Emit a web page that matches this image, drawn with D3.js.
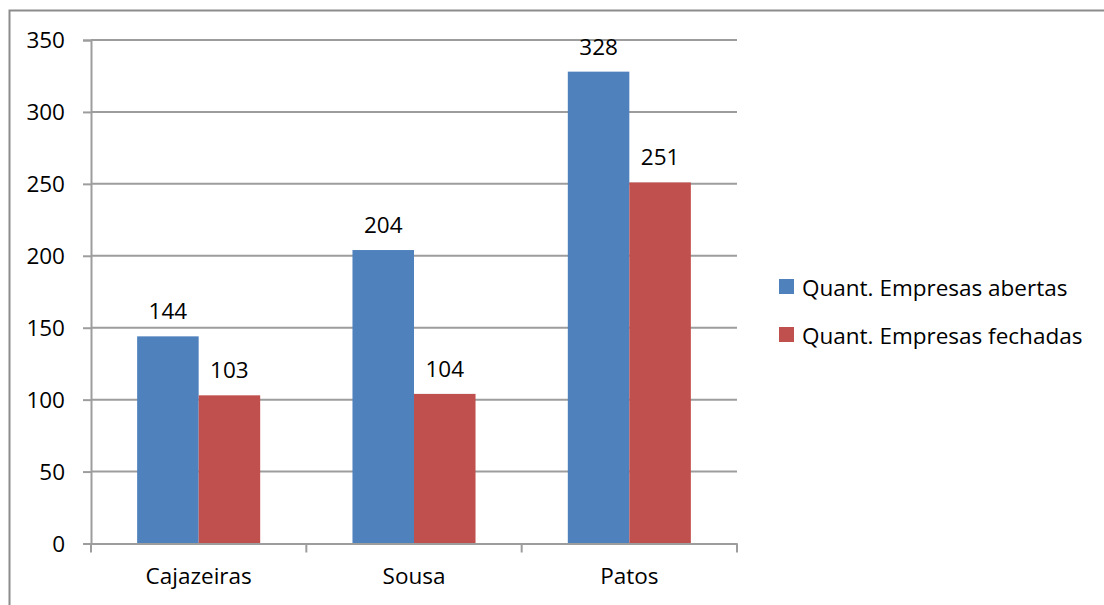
<!DOCTYPE html>
<html>
<head>
<meta charset="utf-8">
<script src="https://cdn.jsdelivr.net/npm/d3@7"></script>
<style>
  body { margin: 0; background: #fff; }
  text { font-family: "Open Sans", "Noto Sans", sans-serif; fill: #000; }
</style>
</head>
<body>
<div id="chart-area"></div>
<script>
// dados
var cidades = ["Cajazeiras", "Sousa", "Patos"];
var series = ["Quant. Empresas abertas", "Quant. Empresas fechadas"];
var abertas = [144, 204, 328];
var fechadas = [103, 104, 251];
var yTicks = [0, 50, 100, 150, 200, 250, 300, 350];
var cores = ["#4F81BD", "#C0504D"];

var W = 1104, H = 605;
var fs = "22.5px";
var svg = d3.select("#chart-area").append("svg")
    .attr("width", W)
    .attr("height", H);

// moldura externa (só esquerda e topo aparecem)
svg.append("rect")
    .attr("x", 9.5).attr("y", 10.5)
    .attr("width", 1200).attr("height", 700)
    .attr("fill", "none")
    .attr("stroke", "#8c8c8c")
    .attr("stroke-width", 2);

var mLeft = 91, mRight = 737, mTop = 40, mBottom = 543.5;

var y = d3.scaleLinear()
    .domain([0, 350])
    .range([mBottom, mTop]);

var x = d3.scaleBand()
    .domain(cidades)
    .range([mLeft, mRight])
    .padding(0);

// gap de 75% da largura da barra de cada lado
var xs = d3.scaleBand()
    .domain(series)
    .range([0, x.bandwidth()])
    .paddingInner(0)
    .paddingOuter(0.75);

var grid = "#9d9d9d";

// linhas de grade
svg.append("g").selectAll("line")
    .data(yTicks.filter(function(d){ return d > 0; }))
    .enter().append("line")
    .attr("x1", mLeft).attr("x2", mRight)
    .attr("y1", function(d){ return y(d); })
    .attr("y2", function(d){ return y(d); })
    .attr("stroke", grid).attr("stroke-width", 2);

// eixo y
var yAxis = d3.axisLeft(y).tickValues(yTicks).tickSize(8).tickPadding(18);
var gy = svg.append("g")
    .attr("transform", "translate(" + mLeft + ",0)")
    .call(yAxis);
gy.select(".domain").attr("stroke", grid).attr("stroke-width", 2);
gy.selectAll(".tick line").attr("stroke", grid).attr("stroke-width", 2);
gy.selectAll(".tick text").style("font-size", fs).attr("dy", "0.35em");

// barras
var dados = [];
cidades.forEach(function(c, i){
    dados.push({cidade: c, serie: series[0], valor: abertas[i]});
    dados.push({cidade: c, serie: series[1], valor: fechadas[i]});
});

svg.append("g").selectAll("rect")
    .data(dados)
    .enter().append("rect")
    .attr("x", function(d){ return x(d.cidade) + xs(d.serie); })
    .attr("y", function(d){ return y(d.valor); })
    .attr("width", xs.bandwidth())
    .attr("height", function(d){ return y(0) - y(d.valor); })
    .attr("fill", function(d){ return cores[series.indexOf(d.serie)]; });

svg.append("g").selectAll("text")
    .data(dados)
    .enter().append("text")
    .attr("x", function(d){ return x(d.cidade) + xs(d.serie) + xs.bandwidth() / 2; })
    .attr("y", function(d){ return y(d.valor) - 17; })
    .attr("text-anchor", "middle")
    .style("font-size", fs)
    .text(function(d){ return d.valor; });

// eixo x
var xAxis = d3.axisBottom(x).tickSize(0).tickPadding(25);
var gx = svg.append("g")
    .attr("transform", "translate(0," + mBottom + ")")
    .call(xAxis);
gx.select(".domain").attr("stroke", grid).attr("stroke-width", 2);
gx.selectAll(".tick text").style("font-size", fs);

// marcas entre categorias
var bordas = cidades.map(function(c){ return x(c); }).concat([mRight]);
svg.append("g").selectAll("line")
    .data(bordas)
    .enter().append("line")
    .attr("x1", function(d){ return d; }).attr("x2", function(d){ return d; })
    .attr("y1", mBottom).attr("y2", mBottom + 9)
    .attr("stroke", grid).attr("stroke-width", 2);

// legenda
var leg = svg.append("g").selectAll("g")
    .data(series)
    .enter().append("g")
    .attr("transform", function(d, i){ return "translate(779," + (279 + i * 48) + ")"; });
leg.append("rect")
    .attr("width", 15).attr("height", 15)
    .attr("fill", function(d, i){ return cores[i]; });
leg.append("text")
    .attr("x", 23).attr("y", 17)
    .style("font-size", fs)
    .text(function(d){ return d; });
</script>
</body>
</html>
